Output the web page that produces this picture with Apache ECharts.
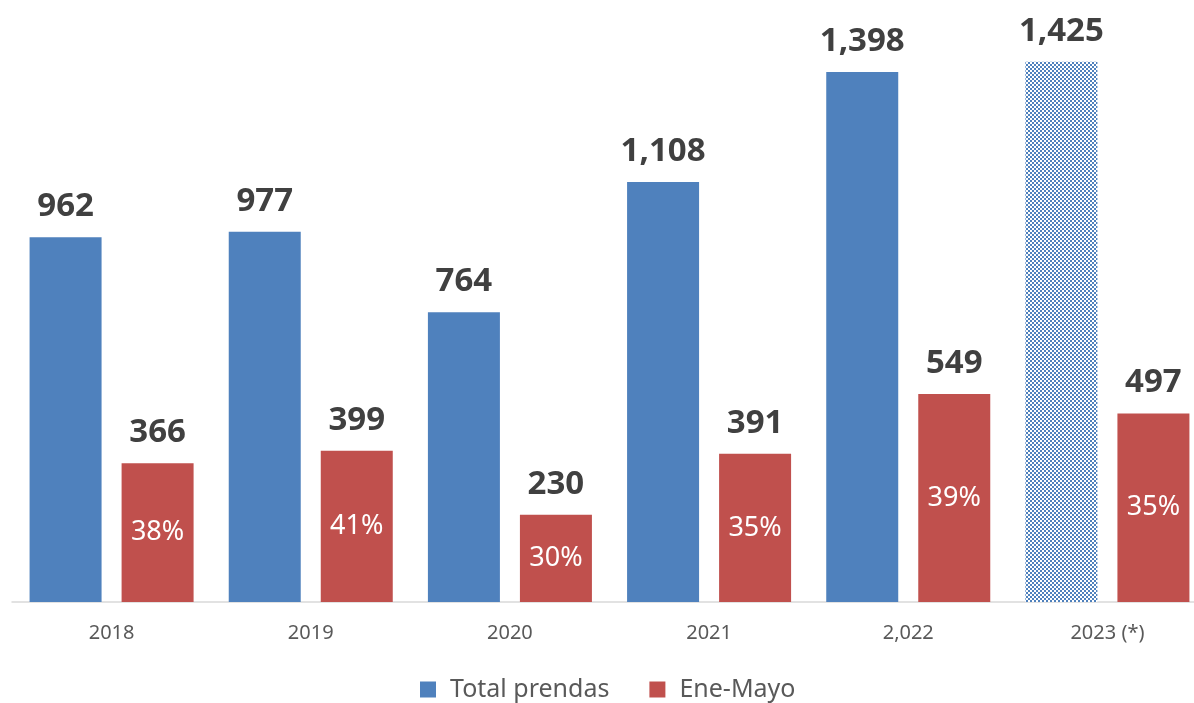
<!DOCTYPE html>
<html>
<head>
<meta charset="utf-8">
<script src="https://cdn.jsdelivr.net/npm/echarts@6/dist/echarts.min.js"></script>
<style>html,body{margin:0;padding:0;background:#fff;}#c{width:1194px;height:703px;}</style>
</head>
<body>
<div id="c"></div>
<script>
var categories = ['2018', '2019', '2020', '2021', '2,022', '2023 (*)'];
var totalPrendas = [962, 977, 764, 1108, 1398, 1425];
var eneMayo = [366, 399, 230, 391, 549, 497];
var pctLabels = ['38%', '41%', '30%', '35%', '39%', '35%'];
var hatchedIndex = 5;

var BLUE = '#4F81BD', RED = '#C0504D', FONT = 'Noto Sans';
function fmt(v) { return Number(v).toLocaleString('en-US'); }

var valueLabel = {
  show: true, position: 'top', distance: 14,
  fontFamily: FONT, fontSize: 33, fontWeight: 'bold', color: '#404040',
  formatter: function (p) { return fmt(p.value); }
};

var blueData = totalPrendas.map(function (v, i) {
  if (i === hatchedIndex) {
    return {
      value: v,
      itemStyle: {
        color: '#ffffff',
        decal: {
          symbol: 'rect', symbolSize: 1, color: BLUE,
          dashArrayX: [[2, 2], [0, 2, 2, 0]], dashArrayY: [2, 0], rotation: 0
        }
      }
    };
  }
  return v;
});

var chart = echarts.init(document.getElementById('c'), null, { renderer: 'canvas' });
chart.setOption({
  animation: false,
  aria: { enabled: false, decal: { show: false } },
  grid: { left: 12, top: 0, width: 1195, height: 602, outerBoundsMode: 'none', containLabel: false },
  xAxis: [{
    type: 'category', data: categories,
    axisLine: { lineStyle: { color: '#D9D9D9', width: 1.5 } },
    axisTick: { show: false },
    axisLabel: { fontFamily: FONT, fontSize: 20, color: '#595959', margin: 21 }
  }, {
    type: 'category', data: categories, show: false
  }],
  yAxis: { type: 'value', min: 0, max: 1588, show: false, splitLine: { show: false } },
  legend: {
    data: ['Total prendas', 'Ene-Mayo'],
    left: 415, top: 672, icon: 'rect', itemWidth: 16, itemHeight: 16, itemGap: 40,
    textStyle: { fontFamily: FONT, fontSize: 25, color: '#595959', padding: [0, 0, 0, 9] }
  },
  series: [{
    name: 'Total prendas', type: 'bar', data: blueData, barWidth: 72, barGap: '27.8%',
    itemStyle: { color: BLUE }, label: valueLabel
  }, {
    name: 'Ene-Mayo', type: 'bar', data: eneMayo, barWidth: 72, barGap: '27.8%',
    itemStyle: { color: RED }, label: valueLabel
  }, {
    name: 'placeholder', type: 'bar', xAxisIndex: 1, data: totalPrendas.map(function () { return '-'; }),
    barWidth: 72, barGap: '27.8%', silent: true, itemStyle: { color: 'transparent' }
  }, {
    name: 'pct', type: 'bar', xAxisIndex: 1, data: eneMayo, barWidth: 72, barGap: '27.8%',
    silent: true, itemStyle: { color: 'transparent' },
    label: {
      show: true, position: 'inside', fontFamily: FONT, fontSize: 27, color: '#ffffff',
      formatter: function (p) { return pctLabels[p.dataIndex]; }
    }
  }]
});
</script>
</body>
</html>
